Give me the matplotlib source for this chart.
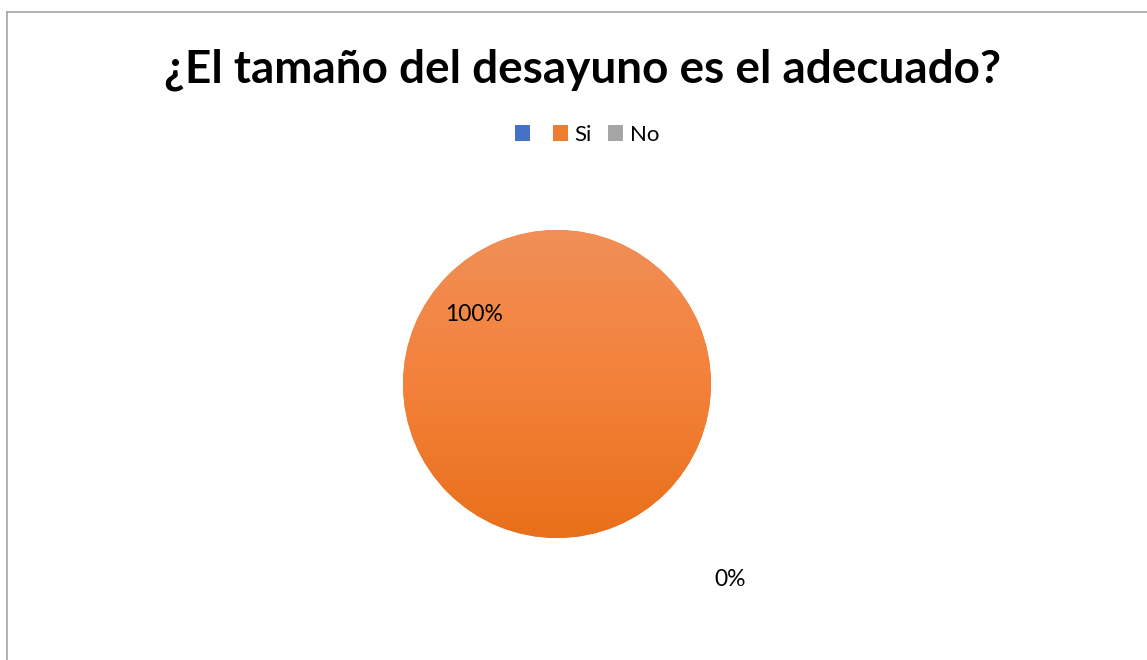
import numpy as np
import matplotlib
matplotlib.use("Agg")
import matplotlib.pyplot as plt
from matplotlib.patches import Patch
from matplotlib.colors import LinearSegmentedColormap

title = "¿El tamaño del desayuno es el adecuado?"
categories = ["", "Si", "No"]
values = [0, 100, 0]
legend_colors = ["#4472C4", "#ED7D31", "#A5A5A5"]
pct_labels = {"Si": "100%", "No": "0%"}

fig = plt.figure(figsize=(11.47, 6.6), dpi=100)
fig.patch.set_facecolor("white")

# chart frame (left and top edges visible)
fig.add_artist(plt.Line2D([7 / 1147, 7 / 1147], [0, 1 - 12 / 660], color="#A6A6A6", lw=1.2))
fig.add_artist(plt.Line2D([7 / 1147, 1], [1 - 12 / 660, 1 - 12 / 660], color="#A6A6A6", lw=1.2))

fig.text(582 / 1147, 1 - 70 / 660, title, ha="center", va="center",
         fontsize=33, fontweight="bold", family="Lato", color="#000000")

# pie axes: centre (557, 384), radius ~154 px
r_px = 154
cx, cy = 557, 384
ax = fig.add_axes([(cx - r_px) / 1147, 1 - (cy + r_px) / 660, 2 * r_px / 1147, 2 * r_px / 660])
wedges, _ = ax.pie(values, colors=legend_colors, startangle=90, counterclock=False,
                   radius=1.0, wedgeprops=dict(linewidth=0))
ax.set_xlim(-1, 1)
ax.set_ylim(-1, 1)
ax.set_aspect("equal")
ax.axis("off")

# vertical shading on the "Si" slice
si = wedges[categories.index("Si")]
cmap = LinearSegmentedColormap.from_list("shade", ["#E8701A", "#F4813A", "#F08F57"])
grad = np.linspace(0, 1, 256).reshape(-1, 1)
img = ax.imshow(grad, cmap=cmap, extent=(-1, 1, -1, 1), origin="lower", aspect="auto", zorder=2)
img.set_clip_path(si)

# percentage labels
label_pos = {"Si": (474, 314), "No": (730, 580)}
for cat, lab in pct_labels.items():
    x, y = label_pos[cat]
    fig.text(x / 1147, 1 - y / 660, lab, ha="center", va="center",
             fontsize=16.5, family="Lato", color="#000000")

handles = [Patch(facecolor=c, edgecolor="none") for c in legend_colors]
fig.legend(handles, categories, loc="center", bbox_to_anchor=(587 / 1147, 1 - 135 / 660),
           ncol=3, frameon=False, prop=dict(family="Lato", size=16),
           handlelength=0.7, handleheight=0.7, handletextpad=0.3, columnspacing=0.7)

fig.savefig("out.png", dpi=100)
